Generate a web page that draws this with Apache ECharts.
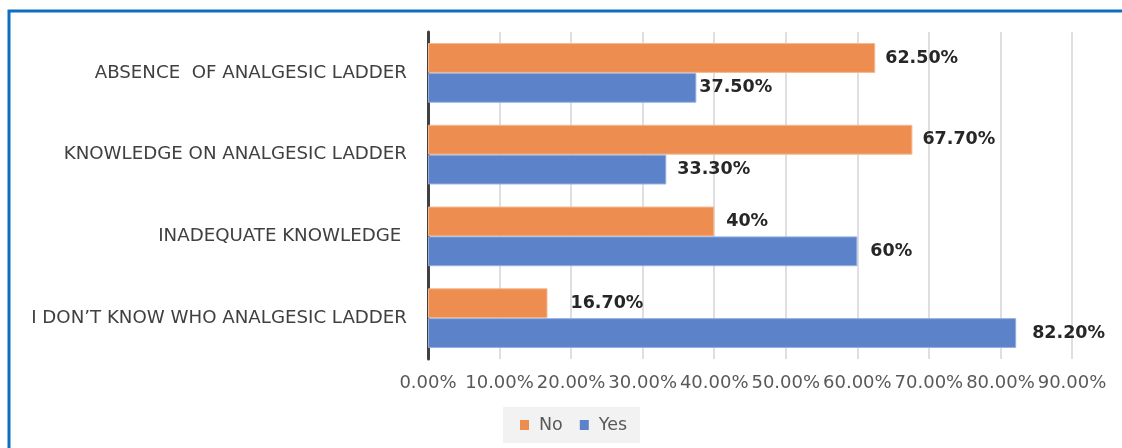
<!DOCTYPE html>
<html>
<head>
<meta charset="utf-8">
<script src="https://cdn.jsdelivr.net/npm/echarts@6/dist/echarts.min.js"></script>
<style>
  html, body { margin: 0; padding: 0; background: #fff; }
</style>
</head>
<body>
<div id="myChart" style="width:1122px;height:448px"></div>
<script>
const categories = ['ABSENCE  OF ANALGESIC LADDER', 'KNOWLEDGE ON ANALGESIC LADDER', 'INADEQUATE KNOWLEDGE ', 'I DON\u2019T KNOW WHO ANALGESIC LADDER']
const noValues = [62.5, 67.7, 40, 16.7]
const yesValues = [37.5, 33.3, 60, 82.2]
const noLabels = ['62.50%', '67.70%', '40%', '16.70%']
const yesLabels = ['37.50%', '33.30%', '60%', '82.20%']
const xTicks = ['0.00%', '10.00%', '20.00%', '30.00%', '40.00%', '50.00%', '60.00%', '70.00%', '80.00%', '90.00%']

// label gap from bar end, as placed in the original
const noLabelGap = [10, 10, 12, 23]
const yesLabelGap = [3, 11, 13, 16]

const font = 'DejaVu Sans'

var myChart = echarts.init(document.getElementById('myChart'))

function barData(values, texts, gaps) {
  return values.map(function(v, i) {
    return {
      value: v,
      label: {
        distance: gaps[i],
        formatter: texts[i]
      }
    }
  })
}

var barLabel = {
  show: true,
  position: 'right',
  fontFamily: font,
  fontSize: 17.5,
  fontWeight: 'bold',
  color: '#262626'
}

var option = {
  backgroundColor: '#fff',
  animation: false,
  graphic: [{
    type: 'rect',
    shape: { x: 9, y: 11, width: 1300, height: 600 },
    style: { fill: 'none', stroke: '#0A6FC2', lineWidth: 3 },
    z: 100
  }],
  legend: {
    data: ['No', 'Yes'],
    left: 503,
    top: 407,
    padding: [9, 13, 9, 17],
    backgroundColor: '#f2f2f2',
    itemWidth: 9,
    itemHeight: 10,
    itemGap: 17,
    icon: 'rect',
    itemStyle: { borderWidth: 0 },
    textStyle: {
      fontFamily: font,
      fontSize: 17.5,
      color: '#595959',
      padding: [0, 0, 0, 5]
    }
  },
  grid: {
    left: 428,
    right: 50,
    top: 32,
    bottom: 89,
    containLabel: false
  },
  xAxis: {
    type: 'value',
    min: 0,
    max: 90,
    interval: 10,
    axisLine: { show: false },
    axisTick: { show: false },
    splitLine: {
      show: true,
      lineStyle: { color: '#d4d4d4', width: 1.5 }
    },
    axisLabel: {
      margin: 15,
      fontFamily: font,
      fontSize: 18,
      color: '#595959',
      formatter: function(v) {
        return xTicks[Math.round(v / 10)]
      }
    }
  },
  yAxis: {
    type: 'category',
    inverse: true,
    data: categories,
    axisLine: {
      show: true,
      lineStyle: { color: '#404040', width: 3 }
    },
    axisTick: { show: false },
    splitLine: { show: false },
    axisLabel: {
      margin: 21,
      fontFamily: font,
      fontSize: 18.2,
      color: '#404040'
    }
  },
  series: [
    {
      name: 'No',
      type: 'bar',
      data: barData(noValues, noLabels, noLabelGap),
      barGap: '0%',
      barCategoryGap: '27%',
      itemStyle: { color: '#ED8D50', borderColor: '#f6b88f', borderWidth: 1 },
      label: barLabel
    },
    {
      name: 'Yes',
      type: 'bar',
      data: barData(yesValues, yesLabels, yesLabelGap),
      barGap: '0%',
      barCategoryGap: '27%',
      itemStyle: { color: '#5C82CA', borderColor: '#93afe0', borderWidth: 1 },
      label: barLabel
    }
  ]
}

myChart.setOption(option)
</script>
</body>
</html>
